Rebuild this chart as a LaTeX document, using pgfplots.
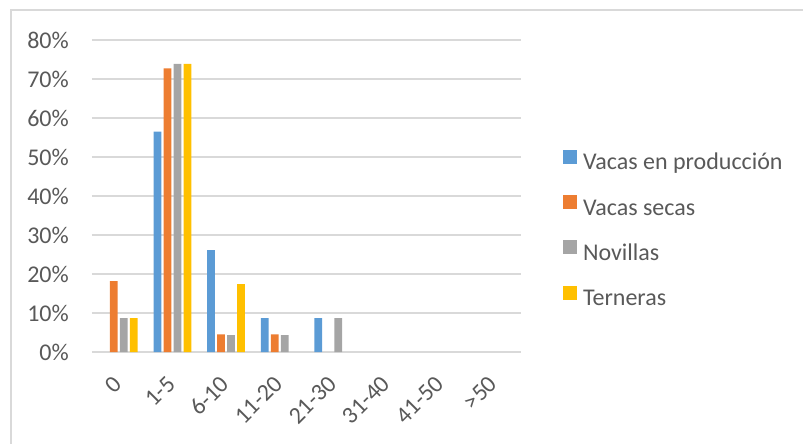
\documentclass[border=0pt]{standalone}
\usepackage{fontspec}
\setmainfont{Carlito}
\usepackage{pgfplots}
\pgfplotsset{compat=1.18}
\definecolor{cblue}{HTML}{5B9BD5}
\definecolor{corange}{HTML}{ED7D31}
\definecolor{cgray}{HTML}{A5A5A5}
\definecolor{cyellow}{HTML}{FFC000}
\definecolor{gridgray}{HTML}{D9D9D9}
\definecolor{txtgray}{HTML}{595959}
\begin{document}
\begin{tikzpicture}
\begin{axis}[
  scale only axis,
  width=429pt, height=312pt,
  ybar=2.3pt, bar width=7.7pt,
  xmin=-0.5, xmax=7.5,
  ymin=0, ymax=80,
  ytick={0,10,...,80},
  yticklabel={\pgfmathprintnumber{\tick}\%},
  xtick={0,1,2,3,4,5,6,7},
  xticklabels={0,1-5,6-10,11-20,21-30,31-40,41-50,>50},
  /pgf/number format/assume math mode=true,
  major tick length=0pt,
  axis line style={draw=none},
  ymajorgrids,
  grid style={color=gridgray, line width=1.1pt},
  tick label style={font=\fontsize{24}{28}\selectfont, text=txtgray},
  yticklabel style={anchor=east, inner sep=0pt, xshift=-23pt},
  xticklabel style={xshift=-1pt, yshift=-28pt, rotate=45, anchor=east, inner sep=0pt},
  legend style={at={(1.098,0.39)}, anchor=west, draw=none, fill=none,
    inner sep=0pt, outer sep=0pt, column sep=6pt, row sep=20.3pt,
    font=\fontsize{24}{28}\selectfont, text=txtgray,
    nodes={inner sep=0pt, text height=17pt, text depth=5pt}},
  legend cell align=left,
  legend image code/.code={\path[#1] (0pt,0pt) rectangle (14pt,14pt);},
]
\addplot[fill=cblue, draw=none] coordinates {(1,56.5) (2,26.1) (3,8.7) (4,8.7)};
\addplot[fill=corange, draw=none] coordinates {(0,18.2) (1,72.7) (2,4.5) (3,4.5)};
\addplot[fill=cgray, draw=none] coordinates {(0,8.7) (1,73.9) (2,4.3) (3,4.3) (4,8.7)};
\addplot[fill=cyellow, draw=none] coordinates {(0,8.7) (1,73.9) (2,17.4)};
\legend{Vacas en producción, Vacas secas, Novillas, Terneras}
\end{axis}
\draw[color=gridgray, line width=1.3pt] (-81pt,-110pt) -- (-81pt,342pt) -- (730pt,342pt);
\pgfresetboundingbox
\useasboundingbox (-92pt,-92pt) rectangle (711pt,352pt);
\end{tikzpicture}
\end{document}
